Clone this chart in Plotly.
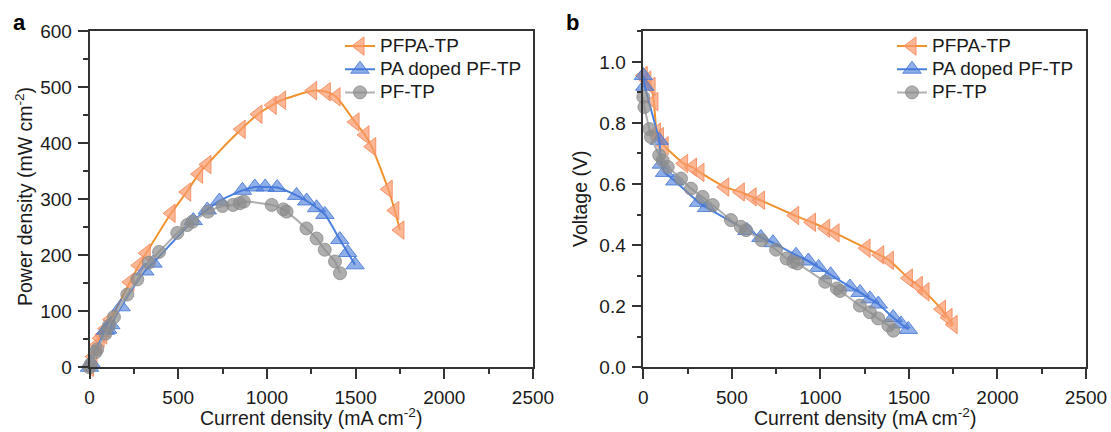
import plotly.graph_objects as go

# ---------------- data ----------------
# PFPA-TP
pfpa_i = [0, 20, 44, 60, 75, 91, 118, 228, 278, 320, 460, 548, 615, 662, 855, 950, 1030, 1083, 1258, 1335, 1390, 1497, 1553, 1591, 1684, 1721, 1750]
pfpa_v = [0.955, 0.94, 0.92, 0.87, 0.77, 0.755, 0.725, 0.667, 0.655, 0.638, 0.59, 0.574, 0.558, 0.547, 0.497, 0.475, 0.455, 0.44, 0.39, 0.368, 0.35, 0.292, 0.268, 0.247, 0.19, 0.163, 0.14]
pfpa_p = [0, 19, 40, 52, 58, 69, 85, 152, 182, 204, 275, 313, 345, 362, 425, 452, 468, 477, 494, 492, 483, 438, 415, 394, 318, 280, 245]

# PA doped PF-TP
pad_i = [0, 8, 90, 102, 120, 178, 312, 358, 585, 664, 732, 862, 932, 990, 1058, 1167, 1224, 1280, 1327, 1411, 1455, 1497]
pad_v = [0.955, 0.92, 0.743, 0.665, 0.638, 0.61, 0.54, 0.523, 0.448, 0.425, 0.408, 0.367, 0.348, 0.327, 0.303, 0.263, 0.245, 0.224, 0.207, 0.163, 0.142, 0.124]
pad_p = [0, 8, 66, 68, 76, 108, 172, 186, 262, 281, 297, 316, 322, 322, 321, 307, 297, 285, 273, 228, 205, 183]

# PF-TP
pf_i = [0, 6, 34, 43, 90, 109, 138, 213, 269, 335, 392, 495, 551, 580, 668, 750, 809, 847, 870, 1027, 1093, 1111, 1223, 1280, 1326, 1384, 1412]
pf_v = [0.885, 0.852, 0.78, 0.754, 0.694, 0.678, 0.656, 0.618, 0.585, 0.558, 0.531, 0.482, 0.46, 0.449, 0.416, 0.385, 0.356, 0.345, 0.34, 0.28, 0.258, 0.25, 0.202, 0.18, 0.16, 0.137, 0.12]
pf_p = [0, 5, 27, 32, 60, 74, 90, 130, 157, 187, 206, 240, 254, 260, 278, 288, 290, 293, 296, 290, 282, 278, 248, 230, 210, 189, 168]

names = ["PFPA-TP", "PA doped PF-TP", "PF-TP"]
x_ticks = [0, 500, 1000, 1500, 2000, 2500]

FONT = "Liberation Sans, Arial, sans-serif"
W, H = 1111, 432
def px(x): return x / W
def py(y): return 1 - y / H

styles = [
    dict(symbol="triangle-left", size=16, fill="rgba(250,155,110,0.72)", edge="rgba(245,140,95,0.9)", line="#F0922E"),
    dict(symbol="triangle-up", size=16, fill="rgba(70,120,215,0.6)", edge="rgba(70,120,215,0.85)", line="#4A80E0"),
    dict(symbol="circle", size=13, fill="rgba(140,140,140,0.7)", edge="rgba(140,140,140,0.8)", line="#AFAFAF"),
]

def legend_name(n):
    return "<span style='font-size:19px'>" + n + "</span>"

fig = go.Figure()

series_a = [(pfpa_i, pfpa_p), (pad_i, pad_p), (pf_i, pf_p)]
series_b = [(pfpa_i, pfpa_v), (pad_i, pad_v), (pf_i, pf_v)]

for k, (xs, ys) in enumerate(series_a):
    st = styles[k]
    fig.add_trace(go.Scatter(
        x=xs, y=ys, name=legend_name(names[k]), mode="lines+markers",
        line=dict(color=st["line"], width=2, shape="spline", smoothing=0.6),
        marker=dict(symbol=st["symbol"], size=st["size"], color=st["fill"],
                    line=dict(color=st["edge"], width=1)),
        cliponaxis=False, xaxis="x", yaxis="y", legend="legend"))

for k, (xs, ys) in enumerate(series_b):
    st = styles[k]
    fig.add_trace(go.Scatter(
        x=xs, y=ys, name=legend_name(names[k]), mode="lines+markers",
        line=dict(color=st["line"], width=2, shape="spline", smoothing=0.3),
        marker=dict(symbol=st["symbol"], size=st["size"], color=st["fill"],
                    line=dict(color=st["edge"], width=1)),
        cliponaxis=False, xaxis="x2", yaxis="y2", legend="legend2"))

ydom = [py(367.3), py(31.3)]

def minor(dt):
    return dict(dtick=dt, ticklen=5, tickwidth=1.5, tickcolor="#333333", ticks="outside")

axis_common = dict(
    showline=True, linecolor="#333333", linewidth=1.5, mirror=True,
    ticks="outside", ticklen=10, tickwidth=1.5, tickcolor="#333333",
    showgrid=False, zeroline=False, automargin=False,
    tickfont=dict(family=FONT, size=19, color="#1a1a1a"),
    ticklabelstandoff=2,
)

legend_common = dict(xanchor="left", yanchor="top", bgcolor="rgba(0,0,0,0)",
                     font=dict(family=FONT, size=15.5, color="#1a1a1a"),
                     tracegroupgap=0, itemsizing="trace")

fig.update_layout(
    width=W, height=H,
    margin=dict(l=0, r=0, t=0, b=0, pad=0, autoexpand=False),
    paper_bgcolor="white", plot_bgcolor="white",
    font=dict(family=FONT, size=19, color="#1a1a1a"),
    xaxis=dict(domain=[px(89.5), px(533)], range=[0, 2500], tickvals=x_ticks,
               minor=minor(250), anchor="y", **axis_common),
    yaxis=dict(domain=ydom, range=[0, 600], dtick=100,
               minor=minor(50), anchor="x", **axis_common),
    xaxis2=dict(domain=[px(643.3), px(1086)], range=[0, 2500], tickvals=x_ticks,
                minor=minor(250), anchor="y2", **axis_common),
    yaxis2=dict(domain=ydom, range=[0, 1.1], dtick=0.2, tickformat=".1f",
                minor=minor(0.1), anchor="x2", **axis_common),
    legend=dict(x=px(340), y=py(29.5), **legend_common),
    legend2=dict(x=px(892), y=py(29.5), **legend_common),
    annotations=[
        dict(text="<b>a</b>", x=px(11), y=py(22), xref="paper", yref="paper", showarrow=False,
             font=dict(family=FONT, size=22, color="black"), xanchor="left", yanchor="middle"),
        dict(text="<b>b</b>", x=px(564), y=py(22), xref="paper", yref="paper", showarrow=False,
             font=dict(family=FONT, size=22, color="black"), xanchor="left", yanchor="middle"),
        dict(text="Current density (mA cm<sup>-2</sup>)", x=px(311), y=py(417), xref="paper", yref="paper",
             showarrow=False, font=dict(family=FONT, size=19.5), xanchor="center", yanchor="middle"),
        dict(text="Current density (mA cm<sup>-2</sup>)", x=px(865), y=py(417), xref="paper", yref="paper",
             showarrow=False, font=dict(family=FONT, size=19.5), xanchor="center", yanchor="middle"),
        dict(text="Power density (mW cm<sup>-2</sup>)", x=px(24), y=py(197), xref="paper", yref="paper",
             showarrow=False, font=dict(family=FONT, size=19.5), textangle=-90, xanchor="center", yanchor="middle"),
        dict(text="Voltage (V)", x=px(580), y=py(199), xref="paper", yref="paper",
             showarrow=False, font=dict(family=FONT, size=19.5), textangle=-90, xanchor="center", yanchor="middle"),
    ],
)

fig.write_html("out.html")
